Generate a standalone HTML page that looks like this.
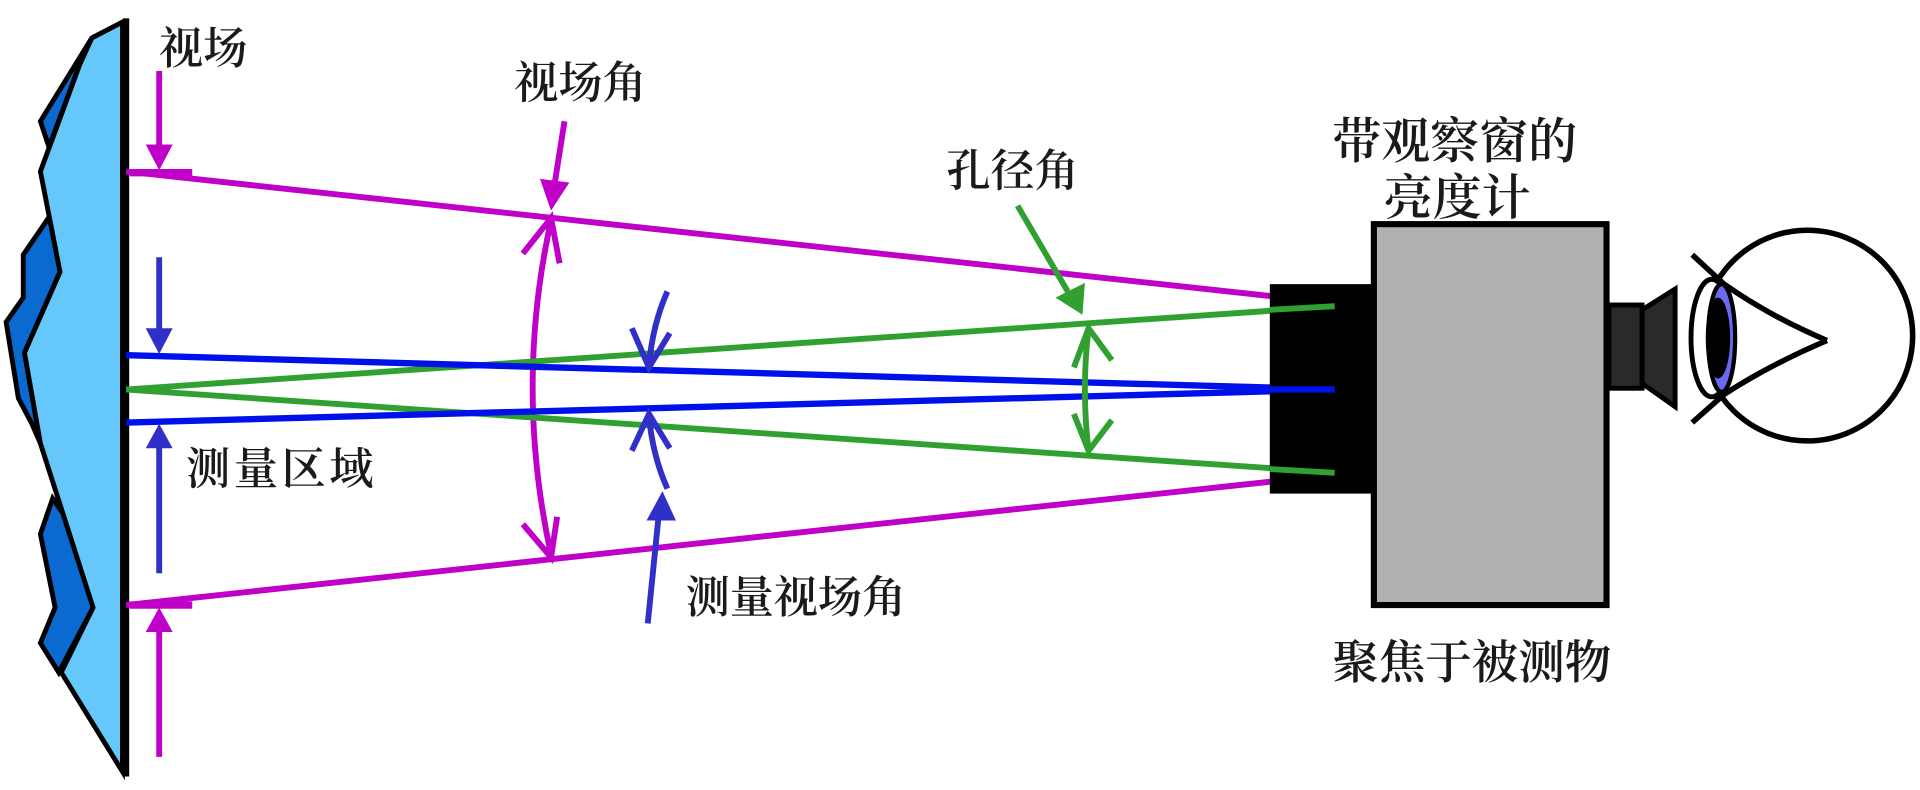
<!DOCTYPE html>
<html><head><meta charset="utf-8"><style>
html,body{margin:0;padding:0;background:#fff;width:1920px;height:790px;overflow:hidden}
svg{display:block}
text{font-family:"Liberation Serif","Noto Serif CJK SC",serif;fill:#1a1a1a;font-weight:600}
</style></head><body>
<svg width="1920" height="790" viewBox="0 0 1568 645" preserveAspectRatio="none" xmlns="http://www.w3.org/2000/svg">
<g stroke="#000" stroke-width="4" stroke-linejoin="miter">
<polygon points="75,31 33,99 40,120 65,53" fill="#0a6ad0"/>
<polygon points="43,173 19,208 19,243 5,263 15,325 26,346 33,362 20,288 49,222" fill="#0a6ad0"/>
<polygon points="43,407 33,436 45,496 33,525 48,549 76,496 63,436" fill="#0a6ad0"/>
<polygon points="100,18 75,31 65,53 33,140 49,222 20,288 33,362 76,496 50,549 100,630" fill="#66c8fa"/>
</g>
<line x1="103" y1="15" x2="103" y2="634" stroke="#000" stroke-width="5"/>
<!-- magenta -->
<g stroke="#c000c8" stroke-width="4.8" fill="none">
<line x1="103" y1="140" x2="1040" y2="242"/>
<line x1="103" y1="494" x2="1040" y2="393"/>
<line x1="106" y1="141" x2="157" y2="141" stroke-width="6"/>
<line x1="106" y1="494" x2="157" y2="494" stroke-width="6"/>
<line x1="130" y1="58" x2="130" y2="120"/>
<line x1="130" y1="618" x2="130" y2="515"/>
<path d="M450,180 Q420,316 450,453"/>
<path d="M427,207 L450,178 L457,215"/>
<path d="M427,428 L450,455 L455,422"/>
<line x1="461" y1="99" x2="453" y2="150"/>
</g>
<g fill="#c000c8">
<polygon points="119,118 141,118 130,139"/>
<polygon points="119,516 141,516 130,496"/>
<polygon points="441,146 465,149 450,172"/>
</g>
<!-- green/blue rays -->
<g stroke="#30a030" stroke-width="4.8">
<line x1="103" y1="318" x2="1092" y2="250"/>
<line x1="103" y1="318" x2="1092" y2="386"/>
</g>
<g stroke="#0010e8" stroke-width="5.2">
<line x1="103" y1="290" x2="1092" y2="318"/>
<line x1="103" y1="345" x2="1092" y2="318"/>
</g>
<!-- blue arrows -->
<g stroke="#3030c8" stroke-width="4.8" fill="none">
<line x1="130" y1="210" x2="130" y2="270"/>
<line x1="130" y1="468" x2="130" y2="365"/>
<path d="M545,238 Q533,265 530,298"/>
<path d="M516,268 L530,300 L547,272"/>
<path d="M545,399 Q533,372 530,340"/>
<path d="M516,368 L530,338 L547,366"/>
<line x1="529" y1="509" x2="538" y2="420"/>
</g>
<g fill="#3030c8">
<polygon points="119,268 141,268 130,289"/>
<polygon points="119,366 141,366 130,346"/>
<polygon points="528,425 552,425 541,401"/>
</g>
<!-- green arrows -->
<g stroke="#30a030" stroke-width="4.8" fill="none">
<line x1="831" y1="168" x2="872" y2="238"/>
<path d="M889,268 Q883,318 889,368"/>
<path d="M877,300 L889,268 L908,294"/>
<path d="M877,338 L889,368 L908,343"/>
</g>
<polygon points="862,243 886,231 884,257" fill="#30a030"/>
<!-- luminance meter -->
<rect x="1037" y="232" width="84" height="171" fill="#000"/>
<g stroke="#30a030" stroke-width="4.8">
<line x1="1037" y1="253" x2="1090" y2="250"/>
<line x1="1037" y1="383" x2="1090" y2="386"/>
</g>
<line x1="1037" y1="318" x2="1090" y2="318" stroke="#0010e8" stroke-width="5.2"/>
<rect x="1122" y="183" width="190" height="311" fill="#b0b0b0" stroke="#000" stroke-width="5"/>
<rect x="1314" y="249" width="27" height="68" fill="#2a2a2a" stroke="#000" stroke-width="4"/>
<polygon points="1341,253 1368,236 1368,332 1341,313" fill="#2a2a2a" stroke="#000" stroke-width="4"/>
<!-- eye -->
<circle cx="1476" cy="274" r="86" fill="none" stroke="#000" stroke-width="4.5"/>
<ellipse cx="1398" cy="276" rx="17" ry="48" fill="#fff" stroke="#000" stroke-width="4"/>
<ellipse cx="1406" cy="276" rx="11" ry="43" fill="#6a6af0"/>
<ellipse cx="1403" cy="276" rx="10" ry="33" fill="#000"/>
<ellipse cx="1406" cy="276" rx="11" ry="44" fill="none" stroke="#000" stroke-width="3.5"/>
<g stroke="#000" stroke-width="4.5" fill="none">
<path d="M1382,208 L1408,232 Q1445,258 1492,278"/>
<path d="M1382,345 L1408,322 Q1445,298 1492,278"/>
</g>
<!-- labels -->
<g font-size="36">
<text x="130" y="52">视场</text>
<text x="420" y="80">视场角</text>
<text x="773" y="152">孔径角</text>
<text x="152" y="395" letter-spacing="3">测量区域</text>
<text x="560" y="500">测量视场角</text>
<text x="1088" y="129" font-size="40">带观察窗的</text>
<text x="1130" y="175" font-size="40">亮度计</text>
<text x="1088" y="554" font-size="38">聚焦于被测物</text>
</g>
</svg>
</body></html>
